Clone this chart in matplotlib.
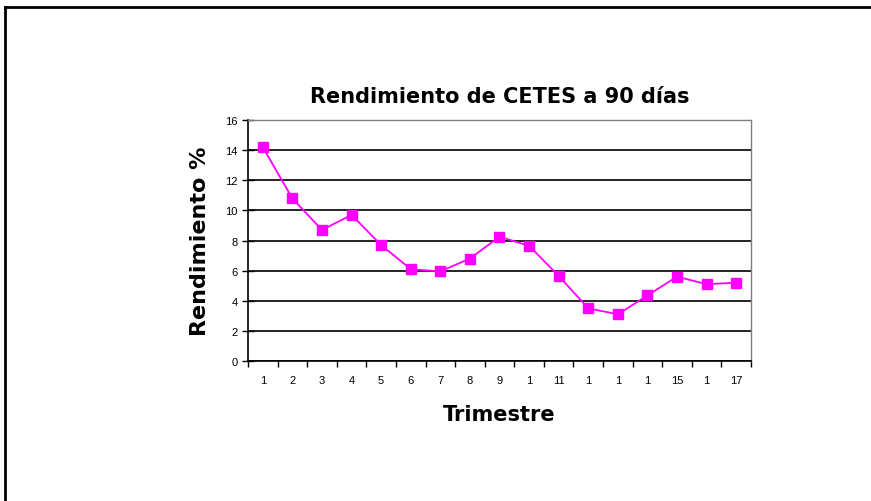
import matplotlib.pyplot as plt
from matplotlib.lines import Line2D

plt.rcParams['font.family'] = ['Liberation Sans', 'DejaVu Sans']

# Rendimiento trimestral (%)
trimestres = list(range(1, 18))
etiquetas = ['1', '2', '3', '4', '5', '6', '7', '8', '9', '1', '11',
             '1', '1', '1', '15', '1', '17']
rendimiento = [14.2, 10.8, 8.7, 9.7, 7.7, 6.1, 5.95, 6.8, 8.25, 7.65,
               5.65, 3.5, 3.1, 4.35, 5.6, 5.1, 5.2]

fig = plt.figure(figsize=(8.71, 5.02), dpi=100)
ax = fig.add_axes([0.2847, 0.2789, 0.5775, 0.480])

ax.plot(trimestres, rendimiento, color='#FF00FF', lw=1.3, marker='s',
        markersize=7, markerfacecolor='#FF00FF', markeredgecolor='#FF00FF',
        zorder=3)

ax.set_xlim(0.5, 17.5)
ax.set_ylim(0, 16)
ax.set_yticks(range(0, 17, 2))
ax.yaxis.grid(True, color='black', lw=1.2)
ax.set_axisbelow(True)

# ticks between categories, labels at the center
ax.set_xticks([i + 0.5 for i in range(0, 18)])
ax.set_xticklabels([])
ax.set_xticks(trimestres, minor=True)
ax.set_xticklabels(etiquetas, minor=True)
ax.tick_params(axis='x', which='major', direction='out', length=4, width=1)
ax.tick_params(axis='x', which='minor', length=0, pad=10, labelsize=8)
ax.tick_params(axis='y', direction='inout', length=8, width=1, labelsize=8)

for s in ['top', 'right']:
    ax.spines[s].set_color('#808080')
    ax.spines[s].set_linewidth(1)
for s in ['left', 'bottom']:
    ax.spines[s].set_color('black')
    ax.spines[s].set_linewidth(1.2)

# Excel draws these wide, DejaVu bold is closer in width
lbl_font = dict(family='DejaVu Sans', fontweight='bold')
ax.set_title('Rendimiento de CETES a 90 días', fontsize=15, pad=13, **lbl_font)
ax.set_ylabel('Rendimiento %', fontsize=16, labelpad=11, **lbl_font)
ax.set_xlabel('Trimestre', fontsize=15, labelpad=14, **lbl_font)

# outer chart border
fig.add_artist(Line2D([5 / 871, 5 / 871], [0, 1 - 8 / 502],
                      transform=fig.transFigure, color='black', lw=2))
fig.add_artist(Line2D([5 / 871, 1], [1 - 8 / 502, 1 - 8 / 502],
                      transform=fig.transFigure, color='black', lw=2))

fig.savefig('out.png', dpi=100)
